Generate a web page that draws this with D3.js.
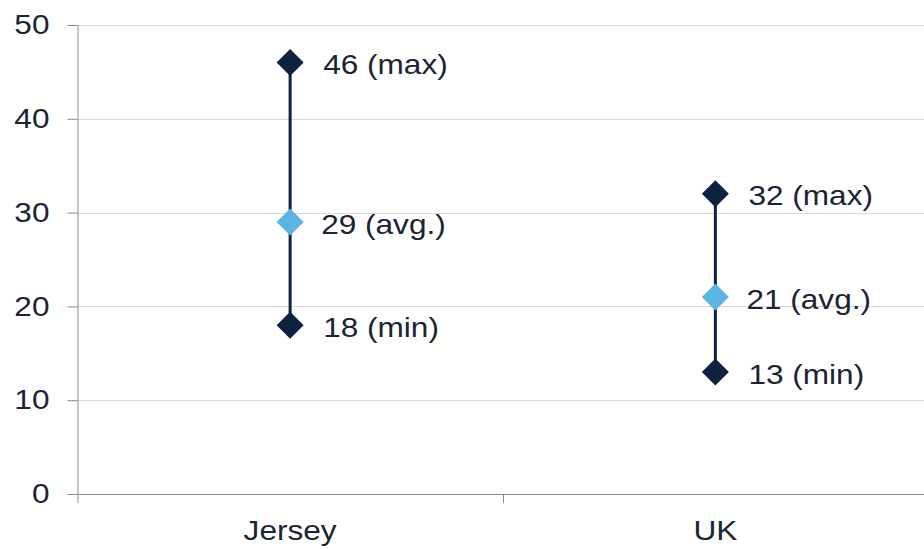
<!DOCTYPE html>
<html>
<head>
<meta charset="utf-8">
<script src="https://cdn.jsdelivr.net/npm/d3@7"></script>
<style>
  html, body { margin: 0; padding: 0; background: #ffffff; }
  svg { display: block; }
  text { font-family: "Liberation Sans", Arial, sans-serif; fill: #1c2433; }
</style>
</head>
<body>
<svg id="chart" width="924" height="549"></svg>
<script>
// Temperature range per location
const categories = ["Jersey", "UK"];
const minValues = [18, 13];
const avgValues = [29, 21];
const maxValues = [46, 32];
const yTicks = [0, 10, 20, 30, 40, 50];

const width = 924, height = 549;
const margin = { top: 25, right: -4, bottom: 55, left: 77.5 };
const stretch = 1.17;   // wide lettering

const svg = d3.select("#chart");

const x = d3.scaleBand()
  .domain(categories)
  .range([margin.left, width - margin.right])
  .paddingInner(0).paddingOuter(0);

const y = d3.scaleLinear()
  .domain([0, 50])
  .range([height - margin.bottom, margin.top]);

// widen a text element around its anchor point
function widen(sel) {
  sel.each(function () {
    const t = d3.select(this);
    const tx = +t.attr("x") || 0, ty = +t.attr("y") || 0;
    t.attr("x", 0).attr("y", 0)
     .attr("transform", `translate(${tx},${ty}) scale(${stretch},1)`);
  });
}

// horizontal gridlines
svg.append("g")
  .selectAll("line")
  .data(yTicks.filter(d => d > 0))
  .join("line")
  .attr("x1", margin.left)
  .attr("x2", width)
  .attr("y1", d => Math.round(y(d)) + 0.5)
  .attr("y2", d => Math.round(y(d)) + 0.5)
  .attr("stroke", "#d9d9d9")
  .attr("stroke-width", 1);

// y axis
const yAxis = svg.append("g")
  .attr("transform", `translate(${margin.left},0)`)
  .call(d3.axisLeft(y).tickValues(yTicks).tickSize(10).tickPadding(18));
yAxis.select(".domain").attr("stroke", "#8c8c8c").attr("d",
  `M0.5,${y(50)}V${y(0) + 9}`);
yAxis.selectAll(".tick line").attr("stroke", "#8c8c8c");
yAxis.selectAll(".tick text")
  .style("font-size", "27px")
  .style("font-family", "'Liberation Sans', Arial, sans-serif")
  .attr("fill", "#1c2433")
  .call(widen);

// x axis
const xAxis = svg.append("g")
  .attr("transform", `translate(0,${y(0)})`)
  .call(d3.axisBottom(x).tickSize(0).tickPadding(27));
xAxis.select(".domain").attr("stroke", "#8c8c8c").attr("d",
  `M${margin.left - 10},0.5H${width}`);
xAxis.selectAll(".tick text")
  .style("font-size", "27px")
  .style("font-family", "'Liberation Sans', Arial, sans-serif")
  .attr("fill", "#1c2433")
  .call(widen);
// band boundary tick marks
xAxis.append("g")
  .selectAll("line")
  .data(categories.slice(1))
  .join("line")
  .attr("x1", d => Math.round(x(d)) + 0.5)
  .attr("x2", d => Math.round(x(d)) + 0.5)
  .attr("y1", 0)
  .attr("y2", 9)
  .attr("stroke", "#8c8c8c");

const rows = categories.map((c, i) => ({
  cat: c, min: minValues[i], avg: avgValues[i], max: maxValues[i]
}));

const cx = d => x(d.cat) + x.bandwidth() / 2;

// range lines
svg.append("g")
  .selectAll("line")
  .data(rows)
  .join("line")
  .attr("x1", cx).attr("x2", cx)
  .attr("y1", d => y(d.min))
  .attr("y2", d => y(d.max))
  .attr("stroke", "#0d2140")
  .attr("stroke-width", 3);

const diamond = d3.symbol().type(d3.symbolSquare).size(2 * 13.5 * 13.5);

const points = [];
rows.forEach(d => {
  points.push({ cat: d.cat, v: d.max, kind: "max", color: "#0d2140", dx: 33 });
  points.push({ cat: d.cat, v: d.avg, kind: "avg.", color: "#5ab5e4", dx: 31 });
  points.push({ cat: d.cat, v: d.min, kind: "min", color: "#0d2140", dx: 33 });
});

svg.append("g")
  .selectAll("path")
  .data(points)
  .join("path")
  .attr("d", diamond)
  .attr("transform", d => `translate(${cx(d)},${y(d.v)}) rotate(45)`)
  .attr("fill", d => d.color);

svg.append("g")
  .selectAll("text")
  .data(points)
  .join("text")
  .attr("x", d => cx(d) + d.dx)
  .attr("y", d => y(d.v) + 2)
  .attr("dominant-baseline", "central")
  .style("font-size", "27px")
  .text(d => `${d.v} (${d.kind})`)
  .call(widen);
</script>
</body>
</html>
